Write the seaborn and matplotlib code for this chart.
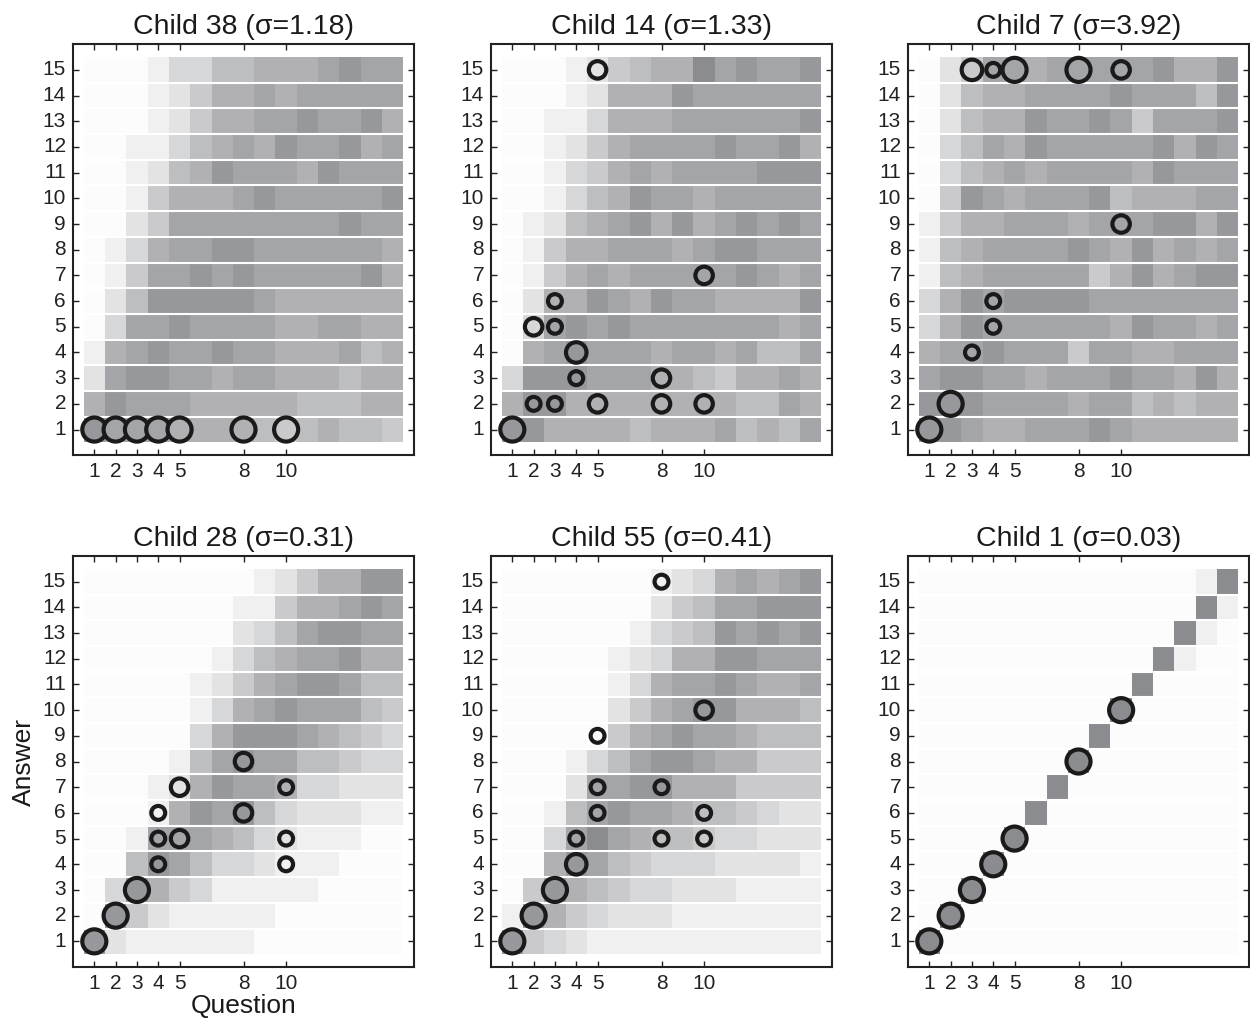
import numpy as np
import pandas as pd
import matplotlib
matplotlib.use("Agg")
import matplotlib.pyplot as plt
import seaborn as sns
from matplotlib.colors import LinearSegmentedColormap

sns.set_style("white")
plt.rcParams['font.family'] = ['Liberation Sans', 'DejaVu Sans']

# ---------------- data ----------------
answers = list(range(1, 16))
questions = list(range(1, 16))
xtick_questions = [1, 2, 3, 4, 5, 8, 10]

titles = ["Child 38 (σ=1.18)", "Child 14 (σ=1.33)", "Child 7 (σ=3.92)",
          "Child 28 (σ=0.31)", "Child 55 (σ=0.41)", "Child 1 (σ=0.03)"]

# cell shade levels (0 = white .. 9 = darkest); rows listed answer 15 (top) -> 1 (bottom)
child38_cells = [
    "000133556667877", "000124667677777", "000124667787786", "001135676877867",
    "001256877768777", "001466678777778", "002477777777877", "013677887777776",
    "014778787777786", "025888887666666", "037787777667766", "167877877666756",
    "278877677666566", "687776666655566", "877766665456554"]
child14_cells = [
    "000124566978778", "000126668777777", "001136667777778", "001246777787786",
    "001346767777888", "001356877677777", "012567868678787", "014667776788777",
    "014676777778767", "026687687766668", "037878777777767", "067877767767557",
    "388877766546676", "688666666665576", "886666566675657"]
child7_cells = [
    "024776777778668", "025667777877758", "025668778747778", "035768777778687",
    "035676777768777", "048767778566677", "146677767778868", "156777787686767",
    "156777774686788", "368788887777777", "368777777687767", "677877747766777",
    "788776777877686", "888777767756566", "887667778766666"]
child28_cells = [
    "000000001246688", "000000011466787", "000000023578877", "000000135677866",
    "000001246788755", "000001367877754", "000003688876543", "000015787755433",
    "000126877633222", "000168785322211", "001777653211100", "005875332111000",
    "038643111110000", "084211111000000", "821111110000000"]
child55_cells = [
    "000000012367678", "000000024577888", "000000134587878", "000001236688777",
    "000001367787667", "000002467886665", "000004678776555", "000135788766444",
    "000277886664444", "001578776554322", "003797655433222", "006875433322221",
    "048654332221111", "186432221111111", "843211111111111"]
child1_cells = [
    "000000000000019", "000000000000091", "000000000000910", "000000000009100",
    "000000000090000", "000000000900000", "000000009000000", "000000090000000",
    "000000900000000", "000009000000000", "000090000000000", "000900000000000",
    "009000000000000", "090000000000000", "900000000000000"]

# given answers: question, answer, count (circle size)
child38_q = [1, 2, 3, 4, 5, 8, 10]
child38_a = [1, 1, 1, 1, 1, 1, 1]
child38_n = [4, 4, 4, 4, 4, 4, 4]

child14_q = [5, 10, 3, 2, 3, 4, 4, 8, 2, 3, 5, 8, 10, 1]
child14_a = [15, 7, 6, 5, 5, 4, 3, 3, 2, 2, 2, 2, 2, 1]
child14_n = [2, 2, 1, 2, 1, 3, 1, 2, 1, 1, 2, 2, 2, 4]

child7_q = [3, 4, 5, 8, 10, 10, 4, 4, 3, 2, 1]
child7_a = [15, 15, 15, 15, 15, 9, 6, 5, 4, 2, 1]
child7_n = [3, 1, 4, 4, 2, 2, 1, 1, 1, 4, 4]

child28_q = [8, 5, 10, 4, 8, 4, 5, 10, 4, 10, 3, 2, 1]
child28_a = [8, 7, 7, 6, 6, 5, 5, 5, 4, 4, 3, 2, 1]
child28_n = [2, 2, 1, 1, 2, 1, 2, 1, 1, 1, 4, 4, 4]

child55_q = [8, 10, 5, 5, 8, 5, 10, 4, 8, 10, 4, 3, 2, 1]
child55_a = [15, 10, 9, 7, 7, 6, 6, 5, 5, 5, 4, 3, 2, 1]
child55_n = [1, 2, 1, 1, 1, 1, 1, 1, 1, 1, 3, 4, 4, 4]

child1_q = [1, 2, 3, 4, 5, 8, 10]
child1_a = [1, 2, 3, 4, 5, 8, 10]
child1_n = [4, 4, 4, 4, 4, 4, 4]

panels = [
    (child38_cells, child38_q, child38_a, child38_n),
    (child14_cells, child14_q, child14_a, child14_n),
    (child7_cells, child7_q, child7_a, child7_n),
    (child28_cells, child28_q, child28_a, child28_n),
    (child55_cells, child55_q, child55_a, child55_n),
    (child1_cells, child1_q, child1_a, child1_n),
]

# ---------------- style ----------------
cmap = LinearSegmentedColormap.from_list("gr", ["#fcfcfc", "#8b8c90"])
size_map = {1: 100, 2: 158, 3: 218, 4: 300}
lefts = [0.0584, 0.3928, 0.7264]
bottoms = [0.555, 0.0547]
W, H = 0.2728, 0.4018

fig = plt.figure(figsize=(12.5, 10.23), dpi=100)

for i, (cells, qs, ans, ns) in enumerate(panels):
    r, c = divmod(i, 3)
    ax = fig.add_axes([lefts[c], bottoms[r], W, H])
    mat = np.array([[int(ch) for ch in row] for row in cells[::-1]])
    df = pd.DataFrame(mat, index=answers, columns=questions)
    sns.heatmap(df, ax=ax, cmap=cmap, vmin=0, vmax=9, cbar=False,
                xticklabels=False, yticklabels=False)
    ax.hlines(np.arange(1, 15), 0, 15, colors="white", linewidth=1.5, zorder=2)
    qa = np.array(qs)
    aa = np.array(ans)
    pts = pd.DataFrame({"x": qa - 0.5, "y": aa - 0.5, "n": ns,
                        "level": mat[aa - 1, qa - 1]})
    sns.scatterplot(data=pts, x="x", y="y", size="n", sizes=size_map,
                    hue="level", palette=cmap, hue_norm=(0, 9),
                    edgecolor="#1a1a1a", linewidth=3.0, legend=False,
                    ax=ax, zorder=3, clip_on=False)
    ax.set_xlim(-0.5, 15.5)
    ax.set_ylim(-0.5, 15.5)
    ax.set_xticks(np.array(xtick_questions) - 0.5)
    ax.set_xticklabels([str(v) for v in xtick_questions], rotation=0)
    ax.set_yticks(np.array(answers) - 0.5)
    ax.set_yticklabels([str(v) for v in answers], rotation=0, va="center")
    ax.tick_params(direction="in", top=True, right=True, bottom=True, left=True,
                   length=4, width=1, labelsize=15, pad=5, colors="#222222")
    for sp in ax.spines.values():
        sp.set_visible(True)
        sp.set_color("#222222")
        sp.set_linewidth(1.5)
    ax.set_title(titles[i], fontsize=20.5, pad=7, color="#1a1a1a")
    if i == 3:
        ax.set_xlabel("Question", fontsize=19, labelpad=1, color="#1a1a1a")
        ax.set_ylabel("Answer", fontsize=19, labelpad=5, color="#1a1a1a")
        ax.xaxis.label.set_visible(True)
        ax.yaxis.label.set_visible(True)
    else:
        ax.set_xlabel("")
        ax.set_ylabel("")

fig.savefig("out.png", dpi=100)
